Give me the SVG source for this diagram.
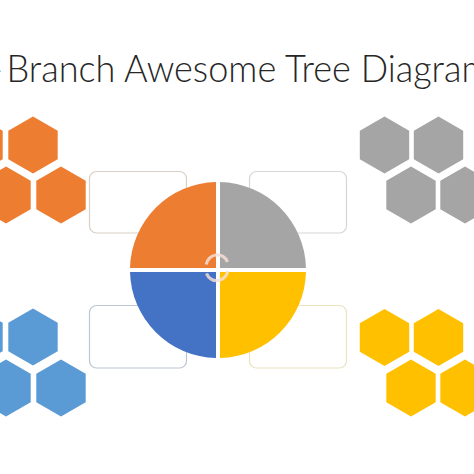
<svg xmlns="http://www.w3.org/2000/svg" width="474" height="474" viewBox="0 0 474 474">
  <style>
    .title { font-family: Lato, "Open Sans", "Liberation Sans", sans-serif; font-weight: 300; font-size: 37px; fill: #262626; }
    .box { fill: #ffffff; stroke-width: 1.2; }
  </style>
  <defs>
    <polygon id="hex" points="0,-28.5 24.7,-14.25 24.7,14.25 0,28.5 -24.7,14.25 -24.7,-14.25"/>
  </defs>
  <rect width="474" height="474" fill="#ffffff"/>
  <text class="title" x="-11" y="81.5">-</text>
  <text class="title" x="6.5" y="81.5" textLength="484" lengthAdjust="spacingAndGlyphs">Branch Awesome Tree Diagram</text>

  <g id="hex-orange" fill="#ED7D31">
    <use href="#hex" x="-22" y="145"/>
    <use href="#hex" x="33" y="145"/>
    <use href="#hex" x="6" y="195"/>
    <use href="#hex" x="61" y="195"/>
  </g>
  <g id="hex-gray" fill="#A5A5A5">
    <use href="#hex" x="384.5" y="145"/>
    <use href="#hex" x="438.5" y="145"/>
    <use href="#hex" x="411" y="195"/>
    <use href="#hex" x="465" y="195"/>
  </g>
  <g id="hex-blue" fill="#5B9BD5">
    <use href="#hex" x="-22" y="337"/>
    <use href="#hex" x="33" y="337"/>
    <use href="#hex" x="6" y="388"/>
    <use href="#hex" x="61" y="388"/>
  </g>
  <g id="hex-yellow" fill="#FFC000">
    <use href="#hex" x="384.5" y="337.5"/>
    <use href="#hex" x="438.5" y="337.5"/>
    <use href="#hex" x="411" y="388"/>
    <use href="#hex" x="465" y="388"/>
  </g>

  <g id="box-tl"><rect class="box" x="89.5" y="171.5" width="97" height="61.5" rx="7" stroke="#D9CFC4"/></g>
  <g id="box-tr"><rect class="box" x="249.5" y="171.5" width="97" height="61.5" rx="7" stroke="#D6D6D6"/></g>
  <g id="box-bl"><rect class="box" x="89.5" y="305.5" width="97" height="62.5" rx="7" stroke="#BCC6D3"/></g>
  <g id="box-br"><rect class="box" x="249.5" y="305.5" width="97" height="62.5" rx="7" stroke="#EBE3BF"/></g>

  <g id="connectors"></g>

  <g id="quadrant-tl"><path d="M216,268 H130.02 A88,88 0 0 1 216,182.02 Z" fill="#ED7D31"/></g>
  <g id="quadrant-tr"><path d="M220,268 V182.02 A88,88 0 0 1 305.98,268 Z" fill="#A5A5A5"/></g>
  <g id="quadrant-br"><path d="M220,272 H305.98 A88,88 0 0 1 220,357.98 Z" fill="#FFC000"/></g>
  <g id="quadrant-bl"><path d="M216,272 V357.98 A88,88 0 0 1 130.02,272 Z" fill="#4472C4"/></g>

  <g id="cycle-icon" fill="none" stroke="#F4DED6" stroke-width="3.2" stroke-opacity="0.85" stroke-linecap="butt">
    <path d="M206.3,264.5 A11,11 0 0 1 227.5,262"/>
    <path d="M227.7,271 A11,11 0 0 1 206.5,273.5"/>
  </g>
</svg>
